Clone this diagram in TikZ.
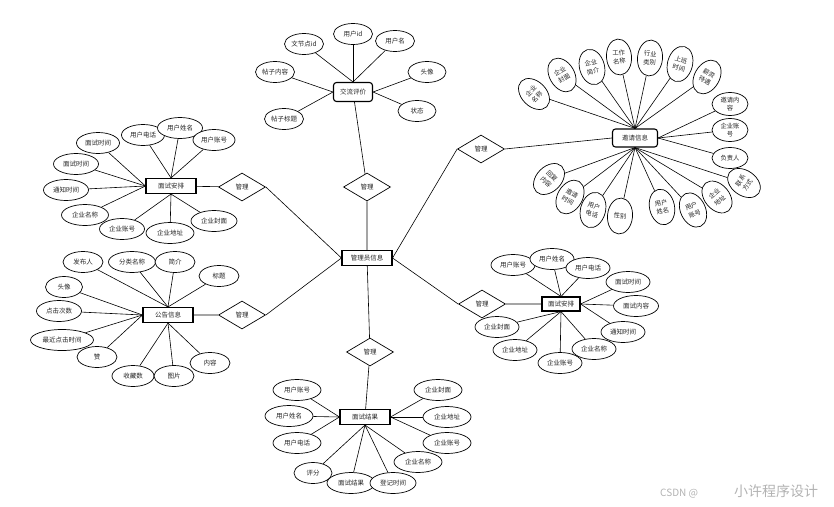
\documentclass[tikz,border=0pt]{standalone}
\usepackage{fontspec}
\setmainfont{Noto Sans CJK SC}
\usetikzlibrary{shapes.geometric}
\pgfdeclarelayer{bg}
\pgfsetlayers{bg,main}
\begin{document}
\begin{tikzpicture}[x=1pt,y=-1pt,
  every node/.style={font=\fontsize{6.5}{7.5}\selectfont, text=black!85},
  attr/.style={ellipse, draw, fill=white, line width=0.7pt, minimum width=42pt, minimum height=21pt, inner sep=0pt},
  rattr/.style={ellipse, draw, fill=white, line width=0.7pt, minimum width=25pt, minimum height=36pt, inner sep=0pt, align=center, font=\fontsize{6.3}{8.5}\selectfont},
  hattr/.style={ellipse, draw, fill=white, line width=0.7pt, minimum width=36pt, minimum height=23pt, inner sep=0pt, align=center, font=\fontsize{6.3}{8}\selectfont},
  ent/.style={draw, fill=white, line width=1.1pt, minimum width=50pt, minimum height=15pt, inner sep=0pt},
  rel/.style={diamond, draw, fill=white, line width=0.7pt, minimum width=47pt, minimum height=28pt, inner sep=0pt},
  link/.style={line width=0.6pt}]
\useasboundingbox (0,0) rectangle (834,506);

% ---------- center and relations ----------
\node[ent] (adm) at (367,258) {管理员信息};
\node[rel] (d1) at (367,187) {管理};
\node[rel] (d2) at (242,187) {管理};
\node[rel] (d3) at (242,315) {管理};
\node[rel] (d4) at (370,352) {管理};
\node[rel] (d5) at (482,304) {管理};
\node[rel] (d6) at (481,149) {管理};

% ---------- 交流评价 ----------
\node[ent, rounded corners=3pt, minimum width=39pt, minimum height=19pt] (jl) at (353,92) {交流评价};
\node[attr, minimum width=39pt] (jl1) at (353,34) {用户id};
\node[attr, minimum width=39pt] (jl2) at (304,44) {文节点id};
\node[attr, minimum width=39pt] (jl3) at (395,41) {用户名};
\node[attr, minimum width=39pt] (jl4) at (275,72) {帖子内容};
\node[attr, minimum width=38pt] (jl5) at (427,72) {头像};
\node[attr, minimum width=39pt] (jl6) at (284,119) {帖子标题};
\node[attr, minimum width=38pt] (jl7) at (417,111) {状态};

% ---------- 面试安排 (left) ----------
\node[ent] (ms) at (171,186) {面试安排};
\node[attr, minimum width=43pt] (ms1) at (98,143) {面试时间};
\node[attr, minimum width=43pt] (ms2) at (143,135) {用户电话};
\node[attr, minimum width=45pt] (ms3) at (180,128) {用户姓名};
\node[attr, minimum width=42pt] (ms4) at (214,140) {用户账号};
\node[attr, minimum width=45pt] (ms5) at (76,164) {面试时间};
\node[attr, minimum width=45pt] (ms6) at (66,190) {通知时间};
\node[attr, minimum width=47pt] (ms7) at (85,215) {企业名称};
\node[attr, minimum width=45pt] (ms8) at (122,229) {企业账号};
\node[attr, minimum width=48pt] (ms9) at (170,233) {企业地址};
\node[attr, minimum width=46pt] (ms10) at (214,221) {企业封面};

% ---------- 公告信息 ----------
\node[ent] (gg) at (168,315) {公告信息};
\node[attr, minimum width=40pt] (gg1) at (83,262) {发布人};
\node[attr, minimum width=47pt] (gg2) at (132,262) {分类名称};
\node[attr, minimum width=40pt] (gg3) at (175,262) {简介};
\node[attr, minimum width=40pt] (gg4) at (219,276) {标题};
\node[attr, minimum width=37pt] (gg5) at (64,287) {头像};
\node[attr, minimum width=45pt] (gg6) at (59,311) {点击次数};
\node[attr, minimum width=63pt] (gg7) at (62,340) {最近点击时间};
\node[attr, minimum width=40pt] (gg8) at (97,357) {赞};
\node[attr, minimum width=42pt] (gg9) at (133,376) {收藏数};
\node[attr, minimum width=40pt] (gg10) at (174,376) {图片};
\node[attr, minimum width=40pt] (gg11) at (210,363) {内容};

% ---------- 面试安排 (right) ----------
\node[ent, minimum width=38pt, minimum height=14pt] (mr) at (561,304) {面试安排};
\node[attr, minimum width=44pt] (mr1) at (513,265) {用户账号};
\node[attr, minimum width=44pt] (mr2) at (552,259) {用户姓名};
\node[attr, minimum width=44pt] (mr3) at (588,268) {用户电话};
\node[attr, minimum width=44pt] (mr4) at (628,282) {面试时间};
\node[attr, minimum width=45pt] (mr5) at (636,306) {面试内容};
\node[attr, minimum width=44pt] (mr6) at (623,332) {通知时间};
\node[attr, minimum width=44pt] (mr7) at (594,349) {企业名称};
\node[attr, minimum width=44pt] (mr8) at (560,363) {企业账号};
\node[attr, minimum width=44pt] (mr9) at (515,350) {企业地址};
\node[attr, minimum width=44pt] (mr10) at (497,327) {企业封面};

% ---------- 面试结果 ----------
\node[ent] (mj) at (365,417) {面试结果};
\node[attr, minimum width=48pt] (mj1) at (297,390) {用户账号};
\node[attr, minimum width=48pt] (mj2) at (289,416) {用户姓名};
\node[attr, minimum width=48pt] (mj3) at (297,443) {用户电话};
\node[attr, minimum width=38pt] (mj4) at (313,473) {评分};
\node[attr, minimum width=48pt] (mj5) at (351,483) {面试结果};
\node[attr, minimum width=46pt] (mj6) at (393,483) {登记时间};
\node[attr, minimum width=48pt] (mj7) at (418,462) {企业名称};
\node[attr, minimum width=48pt] (mj8) at (447,443) {企业账号};
\node[attr, minimum width=48pt] (mj9) at (447,417) {企业地址};
\node[attr, minimum width=48pt] (mj10) at (438,390) {企业封面};

% ---------- 邀请信息 ----------
\node[ent, rounded corners=3pt, minimum width=45pt, minimum height=18pt] (yq) at (635,138) {邀请信息};
\node[rattr, rotate=45] (yq1) at (534,94) {企业\\名称};
\node[rattr, rotate=30] (yq2) at (562,75) {企业\\封面};
\node[rattr, rotate=15] (yq3) at (592,67) {企业\\简介};
\node[rattr, rotate=5] (yq4) at (619,57) {工作\\名称};
\node[rattr, rotate=-5] (yq5) at (650,58) {行业\\类别};
\node[rattr, rotate=-15] (yq6) at (680,64) {上班\\时间};
\node[rattr, rotate=-30] (yq7) at (707,77) {薪资\\待遇};
\node[hattr] (yq8) at (730,104) {邀请内\\容};
\node[hattr] (yq9) at (730,130) {企业账\\号};
\node[hattr, minimum height=21pt] (yq10) at (730,158) {负责人};
\node[rattr, rotate=55] (yq11) at (744,183) {联系\\方式};
\node[rattr, rotate=40] (yq12) at (717,197) {企业\\地址};
\node[rattr, rotate=25] (yq13) at (693,210) {用户\\账号};
\node[rattr, rotate=12] (yq14) at (662,207) {用户\\姓名};
\node[rattr, rotate=-5] (yq15) at (620,216) {性别};
\node[rattr, rotate=-15] (yq16) at (593,210) {用户\\电话};
\node[rattr, rotate=-30] (yq17) at (570,197) {邀请\\时间};
\node[rattr, rotate=-45] (yq18) at (549,179) {回复\\内容};

% ---------- watermark ----------
\node[anchor=west, text=black!30, font=\fontsize{10}{12}\selectfont, inner sep=0pt] (wm) at (660,491) {CSDN @\hspace{36pt}{\fontsize{14}{16}\selectfont 小许程序设计}};

% ---------- connectors ----------
\begin{pgfonlayer}{bg}
\draw[link] (jl) -- (d1) (d1) -- (adm);
\draw[link] (ms) -- (d2) (d2.east) -- (adm.west);
\draw[link] (gg) -- (d3) (d3.east) -- (adm.west);
\draw[link] (adm) -- (d4) (d4) -- (mj);
\draw[link] (adm.east) -- (d5.west) (d5) -- (mr);
\draw[link] (adm.east) -- (d6.west) (d6.east) -- (yq.west);

\foreach \a in {jl1,jl2,jl3} \draw[link] (\a) -- (jl.north);
\foreach \a in {jl4,jl6} \draw[link] (\a) -- (jl.west);
\foreach \a in {jl5,jl7} \draw[link] (\a) -- (jl.east);

\foreach \a in {ms2,ms3,ms4} \draw[link] (\a) -- (ms.north);
\foreach \a in {ms1,ms5,ms6,ms7} \draw[link] (\a) -- (ms.west);
\foreach \a in {ms8,ms9,ms10} \draw[link] (\a) -- (ms.south);

\foreach \a in {gg1,gg2,gg3,gg4} \draw[link] (\a) -- (gg.north);
\foreach \a in {gg5,gg6,gg7,gg8} \draw[link] (\a) -- (gg.west);
\foreach \a in {gg9,gg10,gg11} \draw[link] (\a) -- (gg.south);

\foreach \a in {mr1,mr2,mr3} \draw[link] (\a) -- (mr.north);
\foreach \a in {mr4,mr5,mr6} \draw[link] (\a) -- (mr.east);
\foreach \a in {mr7,mr8,mr9,mr10} \draw[link] (\a) -- (mr.south);

\foreach \a in {mj1,mj2,mj3} \draw[link] (\a) -- (mj.west);
\foreach \a in {mj4,mj5,mj6,mj7} \draw[link] (\a) -- (mj.south);
\foreach \a in {mj8,mj9,mj10} \draw[link] (\a) -- (mj.east);

\foreach \a in {yq1,yq2,yq3,yq4,yq5,yq6,yq7} \draw[link] (\a) -- (yq.north);
\foreach \a in {yq8,yq9,yq10} \draw[link] (\a) -- (yq.east);
\foreach \a in {yq11,yq12,yq13,yq14,yq15,yq16,yq17,yq18} \draw[link] (\a) -- (yq.south);
\end{pgfonlayer}
\end{tikzpicture}
\end{document}
